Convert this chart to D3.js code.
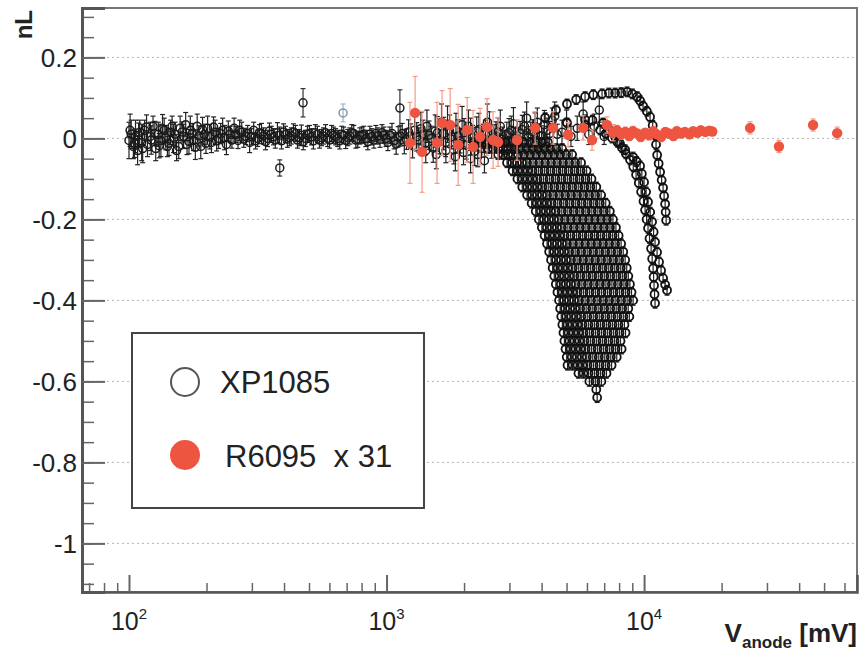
<!DOCTYPE html>
<meta charset="utf-8">
<script src="https://d3js.org/d3.v7.min.js"></script>
<style>
  body { margin: 0; background: #fff; }
  text { font-family: "Liberation Sans", Arial, sans-serif; }
</style>
<body>
<div id="chart"></div>
<script>

// ---------- data ----------
var yTicks = [0.2, 0, -0.2, -0.4, -0.6, -0.8, -1];
var xTicks = [100, 1000, 10000];
var xTickExp = ["2", "3", "4"];
var legendLabels = ["XP1085", "R6095  x 31"];

// XP1085, flat part (two runs): [V (mV), nL, error]
var xpFlat = [
  [100,-0.005,0.045],[102,0.010,0.035],[104,-0.020,0.030],[106,0.005,0.040],[108,-0.030,0.035],
  [110,0.015,0.030],[112,-0.010,0.045],[115,0.020,0.025],[118,-0.015,0.030],[121,0.005,0.035],
  [124,0.030,0.025],[127,-0.025,0.030],[130,0.010,0.030],[133,-0.005,0.040],[137,0.020,0.030],
  [141,-0.020,0.025],[145,0.015,0.030],[149,0.000,0.035],[153,-0.030,0.025],[158,0.025,0.030],
  [163,0.005,0.030],[168,-0.015,0.025],[173,0.020,0.035],[178,-0.005,0.025],[184,0.030,0.030],
  [190,-0.020,0.030],[196,0.010,0.025],[202,0.025,0.030],[209,-0.010,0.025],[216,0.015,0.030],
  [223,0.000,0.025],[231,0.020,0.030],[239,-0.015,0.025],[247,0.010,0.020],[256,0.025,0.025],
  [265,-0.005,0.020],[274,0.015,0.025],[284,0.005,0.020],[294,-0.010,0.025],[305,0.020,0.020],
  [316,0.000,0.020],[327,0.012,0.025],[339,-0.008,0.020],[351,0.018,0.020],[364,0.004,0.020],
  [377,0.014,0.025],[391,-0.006,0.020],[405,0.010,0.020],[420,0.002,0.020],[435,0.016,0.020],
  [451,-0.004,0.020],[467,0.008,0.025],[484,0.000,0.020],[502,0.012,0.020],[520,-0.006,0.020],
  [539,0.010,0.020],[559,0.002,0.020],[580,0.014,0.020],[601,-0.004,0.020],[623,0.008,0.020],
  [646,0.000,0.020],[670,0.010,0.020],[694,-0.005,0.020],[720,0.006,0.020],[746,0.012,0.020],
  [773,-0.002,0.020],[802,0.008,0.020],[831,0.000,0.020],[862,0.010,0.020],[893,-0.004,0.020],
  [926,0.006,0.020],[960,0.014,0.020],[995,0.000,0.020],[1030,0.008,0.020],[1070,-0.006,0.020],
  [1110,0.004,0.025],[1150,0.012,0.025],[1195,-0.002,0.025],[1240,0.006,0.030],[1285,0.020,0.035],
  [1335,-0.004,0.030],[1385,0.010,0.035],[1435,0.030,0.040],[1490,0.000,0.030],[1545,0.018,0.040],
  [1605,-0.008,0.030],[1665,0.012,0.040],[1725,0.035,0.045],[1790,0.004,0.030],[1860,0.022,0.040],
  [1930,-0.006,0.030],[2000,0.014,0.035],[2080,0.030,0.040],[2160,0.002,0.030],[2240,0.018,0.035],
  [2330,-0.004,0.030],[2420,0.010,0.035],[2510,0.026,0.040],[2610,0.004,0.030],[2710,0.016,0.035],
  [2820,-0.002,0.030],[2930,0.010,0.030],[3050,0.020,0.035],[3170,0.000,0.025],[3300,0.012,0.030],
  [3430,0.030,0.035],[3560,0.004,0.025],[3700,0.016,0.030],[3850,0.040,0.035],[4000,0.006,0.025],
  [4200,0.020,0.030],[4400,0.045,0.030],[4600,0.010,0.025]
];
var xpFlat2 = [
  [101,0.020,0.040],[105,-0.012,0.035],[109,0.008,0.030],[113,-0.025,0.035],[117,0.028,0.030],
  [122,-0.004,0.035],[126,0.012,0.030],[131,-0.018,0.030],[135,0.024,0.035],[139,0.002,0.030],
  [143,-0.012,0.030],[147,0.030,0.025],[151,0.010,0.030],[156,-0.020,0.030],[161,0.016,0.025],
  [166,0.034,0.030],[171,-0.008,0.030],[176,0.012,0.025],[181,-0.022,0.030],[187,0.006,0.025],
  [193,0.022,0.030],[199,-0.012,0.025],[206,0.004,0.030],[213,0.028,0.025],[219,-0.006,0.025],
  [227,0.012,0.025],[235,0.002,0.030],[243,0.018,0.025],[251,-0.004,0.020],[260,0.010,0.020],
  [269,0.020,0.025],[279,-0.002,0.020],[289,0.012,0.020],[299,0.004,0.020],[310,-0.006,0.020],
  [321,0.014,0.020],[333,0.006,0.020],[345,0.000,0.020],[357,0.010,0.020],[370,-0.004,0.020],
  [384,0.008,0.020],[398,0.016,0.020],[412,-0.002,0.020],[427,0.006,0.020],[443,0.012,0.020],
  [459,0.002,0.020],[475,-0.008,0.020],[493,0.010,0.020],[511,0.004,0.020],[529,0.014,0.020],
  [549,-0.004,0.020],[569,0.006,0.020],[590,0.000,0.020],[612,0.012,0.020],[634,0.004,0.020],
  [658,-0.006,0.020],[682,0.008,0.020],[707,0.002,0.020],[733,0.014,0.020],[760,-0.004,0.020],
  [788,0.006,0.020],[816,0.010,0.020],[846,-0.008,0.020],[877,0.004,0.020],[909,0.012,0.020],
  [943,-0.002,0.020],[977,0.008,0.020],[1012,-0.010,0.020],[1050,0.012,0.025],[1090,-0.014,0.025],
  [1130,0.006,0.025],[1172,-0.008,0.030],[1218,0.016,0.030],[1262,-0.018,0.030],[1310,0.004,0.035],
  [1360,0.024,0.040],[1410,-0.012,0.030],[1462,0.008,0.035],[1518,-0.024,0.035],[1575,0.014,0.040],
  [1635,0.040,0.045],[1695,-0.010,0.035],[1757,0.018,0.040],[1825,-0.028,0.035],[1895,0.006,0.040],
  [1965,0.034,0.045],[2040,-0.016,0.035],[2120,0.010,0.040],[2200,-0.032,0.035],[2285,0.022,0.040],
  [2375,0.000,0.035],[2465,0.040,0.045],[2560,-0.014,0.035],[2660,0.006,0.035],[2765,0.030,0.040],
  [2875,-0.010,0.030],[2990,0.014,0.035],[3110,0.036,0.040],[3235,-0.004,0.030],[3365,0.022,0.035],
  [3500,0.050,0.040],[3630,0.010,0.030],[3775,0.028,0.035],[3925,0.006,0.030],[4100,0.034,0.035],
  [4300,0.012,0.030],[4500,0.055,0.035],[4800,0.015,0.030],[5000,0.040,0.030],[5200,0.005,0.025],
  [5500,0.025,0.030],[5800,0.060,0.030],[6100,0.010,0.025],[6400,0.030,0.030],[6700,0.070,0.030],
  [7000,0.005,0.020]
];
// points just below the band where the lowest-HV curves begin to bend
var xpTail = [[1420,-0.030,0.030],[1560,-0.040,0.035],[1700,-0.030,0.030],[1850,-0.045,0.035],
  [1990,-0.035,0.030],[2120,-0.050,0.035],[2260,-0.040,0.030],[2400,-0.055,0.030]];
var xpOutliers = [[385,-0.073,0.020],[474,0.088,0.035],[1127,0.075,0.045]];
var xpBlue = [[678,0.063,0.022]];

// XP1085 roll-off at different HV: V (mV) where each curve reaches the nL levels below
var rollLevels = [-0.01,-0.025,-0.04,-0.06,-0.08,-0.10,-0.12,-0.14,-0.16,-0.18,-0.20,-0.22,-0.24,
  -0.26,-0.28,-0.30,-0.32,-0.34,-0.36,-0.38,-0.40,-0.42,-0.44,-0.46,-0.48,-0.50,-0.52,-0.54,-0.56,
  -0.58,-0.60,-0.62,-0.64];
var xpHv01 = [2187,2478,2710,2937,3085,3223,3365,3513,3660,3797,3904,4010,4108,4200,4280,4354,4416,
  4480,4544,4610,4676,4722,4769,4817,4864,4906,4955,5008,5044];
var xpHv02 = [2287,2592,2834,3072,3226,3371,3519,3674,3828,3971,4083,4194,4296,4392,4476,4553,4618,
  4685,4752,4821,4890,4938,4987,5038,5087,5131,5182,5237,5275];
var xpHv03 = [2392,2710,2964,3212,3374,3525,3680,3842,4003,4152,4269,4385,4492,4593,4681,4762,4829,
  4899,4969,5041,5114,5164,5215,5268,5319,5365,5419,5477,5516,5561];
var xpHv04 = [2501,2834,3099,3359,3528,3686,3849,4018,4186,4343,4465,4586,4698,4804,4895,4980,5051,
  5124,5197,5272,5348,5401,5454,5509,5563,5611,5667,5728,5769,5816];
var xpHv05 = [2616,2964,3241,3513,3690,3855,4025,4202,4377,4541,4669,4796,4913,5023,5119,5207,5282,
  5358,5435,5514,5592,5648,5704,5761,5817,5868,5926,5990,6033,6082,6131];
var xpHv06 = [2760,3127,3420,3706,3893,4067,4246,4433,4619,4792,4926,5060,5184,5300,5401,5494,5573,
  5653,5734,5817,5901,5959,6018,6079,6138,6191,6253,6320,6365,6417,6469,6522,6575];
var xpHv07 = [2912,3300,3609,3911,4108,4292,4481,4678,4874,5056,5199,5340,5470,5593,5699,5798,5880,
  5966,6051,6139,6227,6288,6350,6414,6477,6533,6598,6669,6717,6771,6826];
var xpHv08 = [3073,3482,3808,4126,4334,4528,4728,4936,5142,5335,5485,5634,5772,5901,6013,6117,6204,
  6294,6384,6477,6570,6634,6700,6768,6834,6893,6962,7036,7087,7144];
var xpHv09 = [3242,3674,4018,4354,4574,4778,4989,5208,5426,5630,5788,5945,6091,6227,6345,6455,6547,
  6642,6737,6835,6933,7001,7071,7142,7211,7274,7346,7425,7478];
var xpHv10 = [3421,3876,4239,4594,4826,5042,5264,5495,5725,5940,6107,6273,6426,6570,6695,6811,6908,
  7008,7108,7211,7315,7387,7460,7535,7609,7674,7751,7834];
var xpHv11 = [3610,4090,4473,4848,5092,5320,5554,5799,6041,6267,6444,6619,6781,6933,7065,7187,7289,
  7395,7500,7609,7718,7794,7872,7951,8028,8098,8179];
var xpHv12 = [3809,4316,4720,5115,5373,5613,5861,6119,6375,6613,6800,6984,7155,7315,7454,7583,7691,
  7803,7914,8029,8144,8224,8306,8390,8472];
var xpHv13 = [4020,4554,4981,5398,5670,5924,6185,6457,6727,6979,7175,7370,7550,7719,7866,8002,8116,
  8234,8351,8473,8594,8679,8765];
var xpHv14 = [4240,4804,5254,5694,5981,6249,6524,6811,7096,7362,7569,7775,7965,8143,8298,8442,8562,
  8686,8810,8938,9066];

// XP1085, the highest-HV curves: [V (mV), nL]
var xpCurveI = [[5900,0.033],[6750,0.021],[7100,0.012],[7510,0.001],[7900,-0.010],[8210,-0.023],
  [8500,-0.038],[8820,-0.053],[9080,-0.070],[9310,-0.090],[9540,-0.110],[9740,-0.132],[9950,-0.155],
  [10090,-0.177],[10230,-0.200],[10360,-0.222],[10500,-0.247],[10650,-0.272],[10750,-0.297],
  [10840,-0.321],[10890,-0.342],[10930,-0.363],[10980,-0.385],[11030,-0.407]];
var xpCurveJ = [[5020,0.038],[5900,0.046],[6300,0.045],[6930,0.038],[7300,0.022],[7720,0.004],
  [8050,-0.012],[8440,-0.028],[9060,-0.046],[9350,-0.057],[9650,-0.068],[9800,-0.087],[10000,-0.108],
  [10180,-0.132],[10360,-0.157],[10560,-0.182],[10740,-0.206],[10890,-0.231],[11030,-0.256],
  [11230,-0.281],[11430,-0.305],[11640,-0.326],[11850,-0.345],[12070,-0.361],[12280,-0.375]];
var xpCurveK = [[4130,0.051],[4550,0.070],[5020,0.085],[5450,0.096],[5900,0.103],[6350,0.108],
  [6870,0.110],[7300,0.112],[7720,0.112],[8150,0.113],[8590,0.115],[9000,0.110],[9400,0.103],
  [9650,0.093],[9910,0.080],[10250,0.067],[10550,0.053],[10800,0.032],[11030,0.009],[11130,-0.015],
  [11240,-0.041],[11390,-0.062],[11540,-0.083],[11700,-0.103],[11850,-0.122],[11960,-0.142],
  [12070,-0.162],[12130,-0.182],[12180,-0.202]];

// R6095 (scaled x 31): [V (mV), nL, error]
var r6095 = [
  [1233,-0.011,0.10],[1291,0.063,0.09],[1374,-0.033,0.10],[1571,-0.011,0.10],[1643,0.038,0.08],
  [1766,0.033,0.09],[1897,-0.016,0.10],[2056,0.021,0.08],[2168,-0.021,0.09],[2308,0.004,0.07],
  [2456,0.028,0.07],[2592,-0.004,0.07],[2711,-0.009,0.06],[3212,-0.004,0.05],[3775,0.026,0.04],
  [4433,0.026,0.04],[5070,0.009,0.03],[5799,0.026,0.03],[6280,-0.004,0.025],[7180,0.033,0.02],
  [7580,0.014,0.02],[7850,0.020,0.012],[8150,0.010,0.012],[8450,0.016,0.012],[8750,0.006,0.010],
  [9050,0.018,0.012],[9400,0.012,0.010],[9700,0.004,0.012],[10100,0.014,0.010],[10450,0.008,0.012],
  [10850,0.018,0.010],[11200,0.010,0.010],[11650,0.004,0.012],[12100,0.016,0.010],[12500,0.012,0.010],
  [13000,0.006,0.010],[13400,0.018,0.010],[13900,0.012,0.010],[14400,0.016,0.008],[15000,0.010,0.008],
  [15500,0.018,0.008],[16100,0.014,0.008],[16600,0.020,0.008],[17300,0.016,0.008],[17900,0.019,0.008],
  [18400,0.017,0.008],[25800,0.026,0.015],[33400,-0.020,0.015],[45300,0.033,0.015],[56200,0.013,0.015]
];

// ---------- layout ----------
var width = 861, height = 659;
var plot = {left: 82, right: 857, top: 8, bottom: 592};
var red = "#ee5540", redBar = "#f59a88";

var x = d3.scaleLog().domain([65.7, 67100]).range([plot.left, plot.right]);
var y = d3.scaleLinear().domain([-1.12, 0.322]).range([plot.bottom, plot.top]);

var svg = d3.select("#chart").append("svg")
    .attr("width", width)
    .attr("height", height);

// horizontal dotted grid
svg.append("g").selectAll("line")
    .data(yTicks)
    .enter().append("line")
    .attr("x1", plot.left).attr("x2", plot.right)
    .attr("y1", function(d) { return y(d); })
    .attr("y2", function(d) { return y(d); })
    .attr("stroke", "#b5b5b5")
    .attr("stroke-dasharray", "2,3");

// error bars with small caps
function errorBars(g, data, color, err) {
    var sel = g.selectAll(null).data(data).enter();
    function e(d) { return d.length > 2 ? d[2] : err; }
    sel.append("line")
        .attr("x1", function(d) { return x(d[0]); })
        .attr("x2", function(d) { return x(d[0]); })
        .attr("y1", function(d) { return y(d[1] + e(d)); })
        .attr("y2", function(d) { return y(d[1] - e(d)); })
        .attr("stroke", color).attr("stroke-width", 1.2);
    [1, -1].forEach(function(s) {
        sel.append("line")
            .attr("x1", function(d) { return x(d[0]) - 2.5; })
            .attr("x2", function(d) { return x(d[0]) + 2.5; })
            .attr("y1", function(d) { return y(d[1] + s * e(d)); })
            .attr("y2", function(d) { return y(d[1] + s * e(d)); })
            .attr("stroke", color).attr("stroke-width", 1.2);
    });
}

function openCircles(g, data, color, sw) {
    g.selectAll(null).data(data).enter().append("circle")
        .attr("cx", function(d) { return x(d[0]); })
        .attr("cy", function(d) { return y(d[1]); })
        .attr("r", 4)
        .attr("fill", "none")
        .attr("stroke", color)
        .attr("stroke-width", sw || 1.5);
}

// pair the roll-off voltages with their nL levels
var xpHv = [xpHv01, xpHv02, xpHv03, xpHv04, xpHv05, xpHv06, xpHv07,
            xpHv08, xpHv09, xpHv10, xpHv11, xpHv12, xpHv13, xpHv14];
var xpCurves = xpHv.map(function(vs) {
    return vs.map(function(v, i) { return [v, rollLevels[i]]; });
}).concat([xpCurveI, xpCurveJ, xpCurveK]);

// XP1085
var gXp = svg.append("g");
errorBars(gXp, xpFlat, "#222");
errorBars(gXp, xpFlat2, "#222");
errorBars(gXp, xpTail, "#222");
errorBars(gXp, xpOutliers, "#333");
errorBars(gXp, xpBlue, "#9fb3c4");
xpCurves.forEach(function(c) { errorBars(gXp, c, "#222", 0.012); });
openCircles(gXp, xpFlat, "#1a1a1a");
openCircles(gXp, xpFlat2, "#1a1a1a");
openCircles(gXp, xpTail, "#1a1a1a");
openCircles(gXp, xpOutliers, "#222");
openCircles(gXp, xpBlue, "#7f98ad");
xpCurves.forEach(function(c) { openCircles(gXp, c, "#111", 1.8); });

// R6095
var gR = svg.append("g");
errorBars(gR, r6095, redBar);
gR.selectAll(null).data(r6095).enter().append("circle")
    .attr("cx", function(d) { return x(d[0]); })
    .attr("cy", function(d) { return y(d[1]); })
    .attr("r", 5.2)
    .attr("fill", red);

// frame
svg.append("rect")
    .attr("x", plot.left).attr("y", plot.top)
    .attr("width", plot.right - plot.left)
    .attr("height", plot.bottom - plot.top)
    .attr("fill", "none")
    .attr("stroke", "#777")
    .attr("stroke-width", 2);

// y axis (ticks inside)
var yMinor = d3.range(-22, 7).map(function(i) { return i * 0.05; });
svg.append("g")
    .attr("transform", "translate(" + plot.left + ",0)")
    .call(d3.axisLeft(y).tickValues(yMinor).tickSize(-12).tickFormat(""))
    .call(function(g) { g.select(".domain").remove(); g.selectAll("line").attr("stroke", "#666").attr("stroke-width", 1.5); });
var gy = svg.append("g")
    .attr("transform", "translate(" + plot.left + ",0)")
    .call(d3.axisLeft(y).tickValues(yTicks).tickSize(-23)
        .tickFormat(function(d) { return String(d); }));
gy.select(".domain").attr("stroke", "#555").attr("stroke-width", 3);
gy.selectAll("line").attr("stroke", "#666").attr("stroke-width", 2);
gy.selectAll("text")
    .attr("x", -5)
    .attr("dy", "0.36em")
    .style("font-size", "26px")
    .style("font-family", "'Liberation Sans', Arial, sans-serif")
    .attr("fill", "#222");

// x axis (ticks inside)
var xMinor = [];
[10, 100, 1000, 10000].forEach(function(dec) {
    for (var k = 2; k <= 9; k++) xMinor.push(k * dec);
});
xMinor = xMinor.filter(function(v) { return v > 65.7 && v < 67100; });
svg.append("g")
    .attr("transform", "translate(0," + plot.bottom + ")")
    .call(d3.axisBottom(x).tickValues(xMinor).tickSize(-9).tickFormat(""))
    .call(function(g) { g.select(".domain").remove(); g.selectAll("line").attr("stroke", "#666").attr("stroke-width", 1.5); });
var gx = svg.append("g")
    .attr("transform", "translate(0," + plot.bottom + ")")
    .call(d3.axisBottom(x).tickValues(xTicks).tickSize(-17).tickFormat(""));
gx.select(".domain").attr("stroke", "#555").attr("stroke-width", 2.5);
gx.selectAll("line").attr("stroke", "#666").attr("stroke-width", 2);

var xl = svg.append("g").selectAll("text")
    .data(xTicks)
    .enter().append("text")
    .attr("x", function(d) { return x(d); })
    .attr("y", 630)
    .attr("text-anchor", "middle")
    .attr("fill", "#222")
    .style("font-size", "25px");
xl.append("tspan").text("10");
xl.append("tspan")
    .attr("dy", -11)
    .style("font-size", "15px")
    .text(function(d, i) { return xTickExp[i]; });

// axis titles
var xt = svg.append("text")
    .attr("x", plot.right)
    .attr("y", 642)
    .attr("text-anchor", "end")
    .attr("fill", "#222")
    .style("font-weight", "bold")
    .style("font-size", "26px");
xt.append("tspan").text("V");
xt.append("tspan").attr("dy", 6).style("font-size", "17px").text("anode");
xt.append("tspan").attr("dy", -6).text(" [mV]");

svg.append("text")
    .attr("transform", "translate(32,10) rotate(-90)")
    .attr("text-anchor", "end")
    .attr("fill", "#222")
    .style("font-weight", "bold")
    .style("font-size", "24px")
    .text("nL");

// legend
var lg = svg.append("g");
lg.append("rect")
    .attr("x", 132).attr("y", 333)
    .attr("width", 292).attr("height", 175)
    .attr("fill", "#fff")
    .attr("stroke", "#444")
    .attr("stroke-width", 2);
lg.append("circle")
    .attr("cx", 185).attr("cy", 382).attr("r", 14)
    .attr("fill", "none").attr("stroke", "#555").attr("stroke-width", 2);
lg.append("circle")
    .attr("cx", 185).attr("cy", 455).attr("r", 15)
    .attr("fill", red);
lg.selectAll("text.lab")
    .data(legendLabels)
    .enter().append("text")
    .attr("class", "lab")
    .attr("x", function(d, i) { return i === 0 ? 220 : 225; })
    .attr("y", function(d, i) { return i === 0 ? 393 : 467; })
    .attr("fill", "#222")
    .style("font-size", "31px")
    .style("white-space", "pre")
    .text(function(d) { return d; });

</script>
</body>
